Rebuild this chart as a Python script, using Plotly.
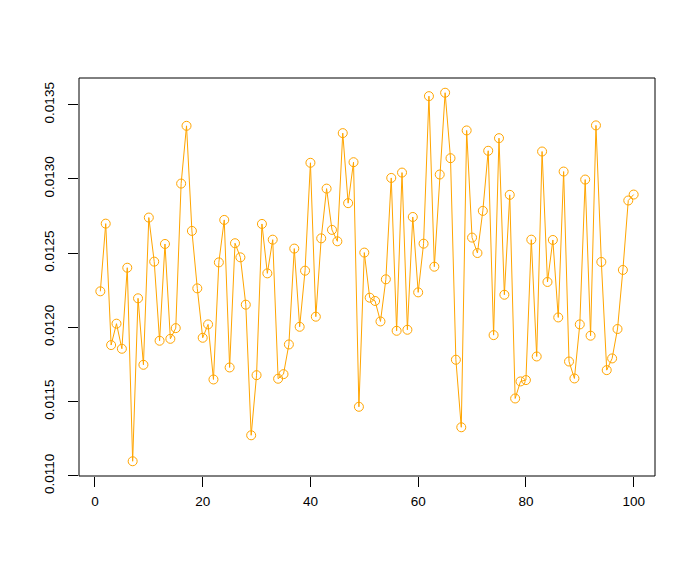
import plotly.graph_objects as go

index = list(range(1, 101))
values = [
    0.012243, 0.012699, 0.011881, 0.012025, 0.011856, 0.012402, 0.011098, 0.012196, 0.011748, 0.012740,
    0.012443, 0.011910, 0.012562, 0.011923, 0.011995, 0.012969, 0.013358, 0.012650, 0.012263, 0.011930,
    0.012020, 0.011649, 0.012438, 0.012724, 0.011730, 0.012567, 0.012472, 0.012153, 0.011273, 0.011678,
    0.012697, 0.012364, 0.012591, 0.011654, 0.011685, 0.011885, 0.012531, 0.012004, 0.012382, 0.013109,
    0.012072, 0.012600, 0.012935, 0.012657, 0.012580, 0.013309, 0.012837, 0.013113, 0.011465, 0.012504,
    0.012200, 0.012178, 0.012040, 0.012324, 0.013007, 0.011977, 0.013043, 0.011984, 0.012744, 0.012236,
    0.012564, 0.013558, 0.012409, 0.013030, 0.013581, 0.013140, 0.011782, 0.011327, 0.013327, 0.012605,
    0.012501, 0.012785, 0.013190, 0.011948, 0.013275, 0.012220, 0.012893, 0.011521, 0.011636, 0.011645,
    0.012591, 0.011804, 0.013185, 0.012306, 0.012589, 0.012067, 0.013050, 0.011770, 0.011656, 0.012020,
    0.012996, 0.011944, 0.013361, 0.012441, 0.011712, 0.011791, 0.011989, 0.012387, 0.012855, 0.012895,
]
x_ticks = [0, 20, 40, 60, 80, 100]
y_ticks = [0.0110, 0.0115, 0.0120, 0.0125, 0.0130, 0.0135]
y_ticktext = ["0.0110", "0.0115", "0.0120", "0.0125", "0.0130", "0.0135"]

def padded(lo, hi, frac=0.04):
    d = (hi - lo) * frac
    return [lo - d, hi + d]

fig = go.Figure(go.Scatter(
    x=index, y=values, mode="lines+markers",
    line=dict(color="#FFA500", width=1),
    marker=dict(symbol="circle-open", size=9, color="#FFA500", line=dict(width=1, color="#FFA500")),
    showlegend=False,
))

font = dict(family="Liberation Sans, Arial, sans-serif", size=13.5, color="black")
fig.update_layout(
    width=696, height=574,
    margin=dict(l=79, r=41, t=78, b=98),
    paper_bgcolor="white", plot_bgcolor="white",
    font=font,
    xaxis=dict(range=padded(min(index), max(index)), tickvals=x_ticks, ticks="outside", ticklen=10,
               tickwidth=1, tickcolor="black", showgrid=False, zeroline=False, showline=False,
               ticklabelstandoff=3),
    yaxis=dict(range=padded(min(values), max(values)), tickvals=y_ticks, ticktext=y_ticktext,
               tickangle=-90, ticks="outside", ticklen=10, tickwidth=1, tickcolor="black",
               showgrid=False, zeroline=False, showline=False, ticklabelstandoff=9),
    shapes=[dict(type="rect", xref="paper", yref="paper", x0=0, x1=1, y0=0, y1=1,
                 line=dict(color="black", width=1))],
)
fig.write_html("out.html", config={"displayModeBar": False},
               post_script="document.body.style.margin='0';")
